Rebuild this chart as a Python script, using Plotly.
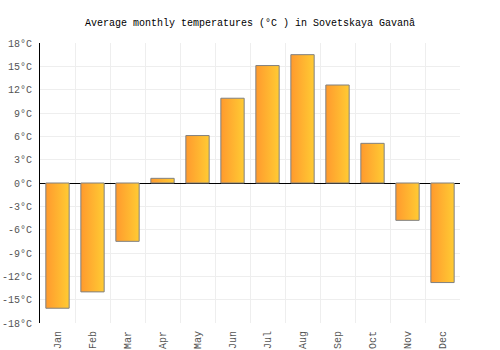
import plotly.graph_objects as go

months = ["Jan", "Feb", "Mar", "Apr", "May", "Jun", "Jul", "Aug", "Sep", "Oct", "Nov", "Dec"]
temps = [-16.1, -14.0, -7.5, 0.6, 6.1, 10.9, 15.1, 16.5, 12.6, 5.1, -4.8, -12.8]
ytick_vals = list(range(-18, 19, 3))
ytick_text = [f"{v}°C" for v in ytick_vals]

half = 0.333
fig = go.Figure()
for i, v in enumerate(temps):
    xs = [i - half, i + half, i + half, i - half, i - half]
    ys = [0, 0, v, v, 0]
    fig.add_trace(go.Scatter(
        x=xs, y=ys, mode="lines", fill="toself",
        line=dict(color="#808080", width=1),
        fillgradient=dict(type="horizontal",
                          colorscale=[[0, "#FF9A2E"], [1, "#FFCB33"]]),
        showlegend=False, hoverinfo="skip",
    ))

font = "Liberation Mono"
fig.update_layout(
    width=500, height=350,
    margin=dict(l=40, r=40, t=43, b=27),
    paper_bgcolor="white", plot_bgcolor="white",
    title=dict(text="Average monthly temperatures (°C ) in Sovetskaya Gavanâ",
               x=0.5, xanchor="center", y=1 - 22 / 350, yanchor="middle",
               font=dict(family=font, size=10, color="#000")),
    font=dict(family=font, size=10, color="#555"),
)
fig.update_xaxes(
    range=[-0.5, 11.5], tickmode="array", tickvals=list(range(12)), ticktext=months,
    tickangle=-90, showgrid=False, zeroline=False, showline=False,
    ticks="", ticklabelstandoff=5, automargin=False,
    minor=dict(tickmode="array", tickvals=[i + 0.5 for i in range(-1, 12)],
               showgrid=True, gridcolor="#eeeeee", gridwidth=1, ticks=""),
    fixedrange=True,
)
fig.update_yaxes(
    range=[-18, 18], tickmode="array", tickvals=ytick_vals, ticktext=ytick_text,
    showgrid=True, gridcolor="#eeeeee", gridwidth=1,
    zeroline=True, zerolinecolor="#000", zerolinewidth=1,
    showline=True, linecolor="#000", linewidth=1, ticks="",
    ticklabelstandoff=5, automargin=False, fixedrange=True,
)
fig.write_html("out.html")
